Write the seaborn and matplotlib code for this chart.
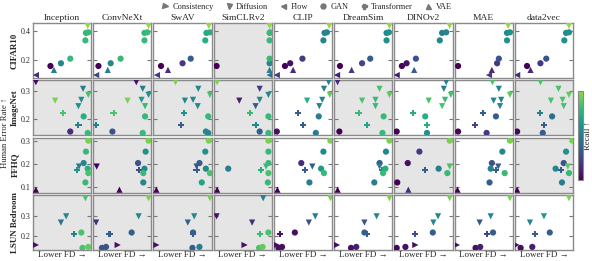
import numpy as np
import pandas as pd
import matplotlib
matplotlib.use("Agg")
import matplotlib.pyplot as plt
import seaborn as sns
from matplotlib.colors import ListedColormap, Normalize
from matplotlib.lines import Line2D
from matplotlib.cm import ScalarMappable

encoders = ["Inception", "ConvNeXt", "SwAV", "SimCLRv2", "CLIP", "DreamSim", "DINOv2", "MAE", "data2vec"]
datasets = ["CIFAR10", "ImageNet", "FFHQ", "LSUN Bedroom"]
model_types = ["Consistency", "Diffusion", "Flow", "GAN", "Transformer", "VAE"]

# ---------------- CIFAR10 ----------------
cifar_types = ["Flow", "GAN", "VAE", "GAN", "GAN", "GAN", "GAN", "GAN", "Diffusion"]
cifar_err = [0.093, 0.156, 0.129, 0.175, 0.207, 0.334, 0.386, 0.390, 0.434]
cifar_fd = [
    [0.05, 0.30, 0.36, 0.48, 0.64, 0.90, 0.91, 0.95, 0.94],
    [0.05, 0.09, 0.25, 0.30, 0.47, 0.88, 0.88, 0.93, 0.95],
    [0.06, 0.13, 0.25, 0.50, 0.64, 0.89, 0.91, 0.97, 0.95],
    [0.96, 0.05, 0.96, 0.96, 0.96, 0.96, 0.96, 0.97, 0.96],
    [0.05, 0.19, 0.33, 0.28, 0.49, 0.85, 0.87, 0.91, 0.95],
    [0.05, 0.10, 0.30, 0.48, 0.62, 0.90, 0.90, 0.94, 0.95],
    [0.04, 0.13, 0.34, 0.21, 0.37, 0.78, 0.82, 0.89, 0.95],
    [0.59, 0.06, 0.64, 0.73, 0.76, 0.90, 0.90, 0.95, 0.92],
    [0.04, 0.21, 0.27, 0.44, 0.54, 0.85, 0.88, 0.93, 0.93],
]
cifar_recall = [
    [0.15, 0.00, 0.50, 0.55, 0.80, 0.80, 0.78, 0.80, 1.00],
    [0.25, 0.00, 0.50, 0.55, 0.80, 0.80, 0.78, 0.80, 1.00],
    [0.20, 0.00, 0.15, 0.20, 0.35, 0.75, 0.72, 0.75, 1.00],
    [0.45, 0.00, 0.50, 0.55, 0.80, 0.80, 0.78, 0.80, 1.00],
    [0.20, 0.00, 0.15, 0.05, 0.20, 0.55, 0.50, 0.55, 1.00],
    [0.10, 0.00, 0.20, 0.25, 0.35, 0.60, 0.55, 0.60, 1.00],
    [0.10, 0.00, 0.35, 0.05, 0.30, 0.55, 0.50, 0.55, 1.00],
    [0.20, 0.00, 0.15, 0.20, 0.30, 0.60, 0.55, 0.60, 1.00],
    [0.15, 0.00, 0.15, 0.20, 0.30, 0.60, 0.55, 0.60, 1.00],
]
cifar_gray = [0, 0, 0, 1, 0, 0, 0, 0, 0]

# ---------------- ImageNet ----------------
imagenet_types = ["Diffusion"] * 6 + ["Transformer", "GAN", "Transformer", "GAN", "GAN"]
imagenet_err = [0.333, 0.309, 0.287, 0.266, 0.269, 0.246, 0.222, 0.209, 0.179, 0.154, 0.149]
imagenet_fd = [
    [0.05, 0.86, 0.95, 0.38, 0.83, 0.78, 0.52, 0.87, 0.78, 0.64, 0.94],
    [0.74, 0.85, 0.95, 0.59, 0.83, 0.89, 0.35, 0.89, 0.05, 0.33, 0.85],
    [0.38, 0.77, 0.97, 0.54, 0.68, 0.76, 0.52, 0.94, 0.47, 0.90, 0.94],
    [0.06, 0.79, 0.94, 0.44, 0.79, 0.72, 0.63, 0.94, 0.72, 0.79, 0.94],
    [0.94, 0.86, 0.96, 0.57, 0.83, 0.78, 0.42, 0.77, 0.50, 0.05, 0.72],
    [0.06, 0.78, 0.95, 0.48, 0.71, 0.71, 0.42, 0.85, 0.57, 0.09, 0.83],
    [0.89, 0.85, 0.97, 0.59, 0.87, 0.82, 0.32, 0.53, 0.56, 0.04, 0.56],
    [0.65, 0.76, 0.95, 0.67, 0.80, 0.78, 0.49, 0.71, 0.35, 0.06, 0.55],
    [0.44, 0.75, 0.93, 0.62, 0.82, 0.84, 0.43, 0.64, 0.50, 0.04, 0.48],
]
imagenet_recall = [
    [0.02, 0.50, 0.85, 0.95, 0.60, 0.60, 0.85, 0.75, 0.50, 0.15, 0.80],
    [0.05, 0.50, 0.60, 0.95, 0.65, 0.80, 0.85, 0.80, 0.50, 0.30, 0.80],
    [0.95, 0.55, 0.85, 0.55, 0.55, 0.55, 0.60, 0.80, 0.35, 0.55, 0.55],
    [0.95, 0.20, 0.55, 0.10, 0.55, 0.35, 0.80, 0.80, 0.55, 0.35, 0.80],
    [0.50, 0.50, 0.90, 0.75, 0.55, 0.55, 0.35, 0.50, 0.35, 0.05, 0.50],
    [0.15, 0.85, 0.90, 0.85, 0.80, 0.80, 0.80, 0.80, 0.70, 0.00, 0.80],
    [0.50, 0.50, 0.85, 0.85, 0.80, 0.85, 0.75, 0.75, 0.75, 0.00, 0.60],
    [0.85, 0.55, 0.90, 0.55, 0.55, 0.55, 0.35, 0.35, 0.25, 0.02, 0.20],
    [0.85, 0.85, 0.90, 0.85, 0.85, 0.85, 0.50, 0.45, 0.35, 0.02, 0.35],
]
imagenet_gray = [1, 1, 1, 1, 0, 1, 0, 0, 1]

# ---------------- FFHQ ----------------
ffhq_types = ["VAE", "GAN", "GAN", "GAN", "Diffusion", "Transformer", "GAN", "GAN", "GAN"]
ffhq_err = [0.090, 0.300, 0.253, 0.204, 0.189, 0.175, 0.180, 0.161, 0.121]
ffhq_fd = [
    [0.05, 0.95, 0.91, 0.87, 0.79, 0.75, 0.94, 0.95, 0.90],
    [0.45, 0.95, 0.90, 0.77, 0.06, 0.79, 0.88, 0.86, 0.86],
    [0.05, 0.95, 0.89, 0.79, 0.74, 0.74, 0.90, 0.97, 0.83],
    [0.06, 0.94, 0.94, 0.94, 0.90, 0.81, 0.25, 0.94, 0.93],
    [0.06, 0.97, 0.85, 0.47, 0.66, 0.53, 0.81, 0.86, 0.61],
    [0.06, 0.95, 0.89, 0.78, 0.78, 0.82, 0.88, 0.84, 0.69],
    [0.24, 0.95, 0.43, 0.23, 0.95, 0.53, 0.76, 0.91, 0.05],
    [0.05, 0.95, 0.82, 0.64, 0.75, 0.71, 0.62, 0.86, 0.60],
    [0.04, 0.99, 0.88, 0.84, 0.91, 0.79, 0.70, 0.93, 0.81],
]
ffhq_recall = [
    [0.00, 0.95, 0.80, 0.55, 0.50, 0.60, 0.75, 0.85, 0.80],
    [0.00, 0.95, 0.60, 0.30, 0.00, 0.30, 0.55, 0.80, 0.55],
    [0.00, 0.95, 0.60, 0.35, 0.30, 0.35, 0.55, 0.85, 0.70],
    [0.00, 0.95, 0.80, 0.80, 0.80, 0.75, 0.50, 0.85, 0.80],
    [0.00, 0.95, 0.55, 0.15, 0.35, 0.35, 0.65, 0.80, 0.50],
    [0.00, 0.95, 0.55, 0.35, 0.50, 0.50, 0.75, 0.80, 0.50],
    [0.15, 0.95, 0.20, 0.05, 0.85, 0.35, 0.50, 0.80, 0.00],
    [0.00, 0.95, 0.55, 0.30, 0.35, 0.35, 0.50, 0.80, 0.35],
    [0.00, 0.95, 0.60, 0.30, 0.90, 0.35, 0.55, 0.80, 0.50],
]
ffhq_gray = [1, 1, 1, 1, 0, 0, 1, 0, 1]

# ---------------- LSUN Bedroom ----------------
lsun_types = ["Diffusion", "Diffusion", "Diffusion", "Transformer", "GAN", "Consistency", "GAN", "GAN"]
lsun_err = [0.393, 0.300, 0.268, 0.210, 0.217, 0.153, 0.138, 0.143]
lsun_fd = [
    [0.90, 0.57, 0.48, 0.71, 0.83, 0.05, 0.85, 0.95],
    [0.95, 0.78, 0.05, 0.28, 0.66, 0.42, 0.15, 0.22],
    [0.97, 0.70, 0.59, 0.68, 0.68, 0.05, 0.67, 0.79],
    [0.85, 0.05, 0.66, 0.79, 0.94, 0.53, 0.78, 0.84],
    [0.97, 0.71, 0.60, 0.10, 0.36, 0.05, 0.08, 0.14],
    [0.95, 0.73, 0.52, 0.56, 0.52, 0.05, 0.29, 0.38],
    [0.95, 0.75, 0.67, 0.36, 0.66, 0.36, 0.04, 0.19],
    [0.95, 0.62, 0.43, 0.55, 0.66, 0.04, 0.36, 0.44],
    [0.93, 0.50, 0.26, 0.34, 0.60, 0.03, 0.10, 0.30],
]
lsun_recall = [
    [0.85, 0.55, 0.45, 0.50, 0.85, 0.05, 0.85, 0.90],
    [0.95, 0.55, 0.15, 0.35, 0.35, 0.05, 0.30, 0.30],
    [0.95, 0.55, 0.35, 0.35, 0.35, 0.05, 0.35, 0.50],
    [0.50, 0.05, 0.15, 0.80, 0.85, 0.05, 0.85, 0.90],
    [0.95, 0.50, 0.30, 0.05, 0.05, 0.05, 0.05, 0.05],
    [0.95, 0.55, 0.30, 0.35, 0.35, 0.05, 0.05, 0.10],
    [0.95, 0.55, 0.55, 0.30, 0.35, 0.05, 0.02, 0.05],
    [0.95, 0.55, 0.30, 0.25, 0.35, 0.05, 0.05, 0.10],
    [0.95, 0.65, 0.55, 0.35, 0.35, 0.05, 0.05, 0.10],
]
lsun_gray = [1, 1, 1, 1, 0, 0, 0, 0, 0]

rows = [
    (cifar_types, cifar_err, cifar_fd, cifar_recall, cifar_gray),
    (imagenet_types, imagenet_err, imagenet_fd, imagenet_recall, imagenet_gray),
    (ffhq_types, ffhq_err, ffhq_fd, ffhq_recall, ffhq_gray),
    (lsun_types, lsun_err, lsun_fd, lsun_recall, lsun_gray),
]
row_ylim = [(0.072, 0.455), (0.14, 0.34), (0.077, 0.313), (0.127, 0.41)]
row_yticks = [[0.2, 0.4], [0.2, 0.3], [0.1, 0.2, 0.3], [0.2, 0.3]]

markers = {"Consistency": ">", "Diffusion": "v", "Flow": "<", "GAN": "o",
           "Transformer": "P", "VAE": "^"}
cmap = ListedColormap(plt.get_cmap("viridis")(np.linspace(0.0, 0.84, 256)))

sns.set_theme(style="white")
plt.rcParams["font.family"] = ["Liberation Serif", "DejaVu Serif"]

fig, axes = plt.subplots(4, 9, figsize=(5.92, 2.61), dpi=100, sharey="row")
fig.subplots_adjust(left=0.0557, right=0.968, top=0.912, bottom=0.042,
                    wspace=0.034, hspace=0.04)

for r, (types, err, fd, rec, gray) in enumerate(rows):
    for c, enc in enumerate(encoders):
        ax = axes[r, c]
        df = pd.DataFrame({"fd": fd[c], "err": err, "recall": rec[c], "type": types})
        sns.scatterplot(data=df, x="fd", y="err", hue="recall", hue_norm=(0, 1),
                        palette=cmap, style="type", markers=markers, s=20,
                        linewidth=0, legend=False, ax=ax, zorder=3)
        ax.set_facecolor("#e5e5e5" if gray[c] else "white")
        ax.set_xlim(0, 1)
        ax.set_ylim(*row_ylim[r])
        ax.set_xticks([])
        ax.set_yticks(row_yticks[r])
        ax.tick_params(axis="y", direction="in", length=3, width=0.8, color="#777777",
                       left=True, right=True, labelsize=5.8, pad=1.5)
        for s in ax.spines.values():
            s.set_color("#8a8a8a")
            s.set_linewidth(1.0)
        if r == 0:
            ax.set_title(enc, fontsize=6.8, pad=2)
        if r == 3:
            ax.set_xlabel("Lower FD →", fontsize=6.5, labelpad=1)
        else:
            ax.set_xlabel("")
        if c == 0:
            ax.set_ylabel(datasets[r], fontsize=6.4, fontweight="bold")
            ax.yaxis.set_label_coords(-0.245, 0.5)
        else:
            ax.set_ylabel("")

cax = fig.add_axes([0.976, 0.31, 0.0084, 0.341])
sm = ScalarMappable(norm=Normalize(0, 1), cmap=cmap)
cb = fig.colorbar(sm, cax=cax)
cb.set_ticks([])
cb.set_label("Recall ↑", fontsize=6.2, labelpad=0.5)
cb.outline.set_edgecolor("#8a8a8a")
cb.outline.set_linewidth(0.8)

fig.text(0.0085, 0.49, "Human Error Rate ↑", rotation=90, va="center", ha="center",
         fontsize=6.2)

handles = [Line2D([], [], marker=markers[t], linestyle="", color="#777777",
                  markersize=3.6, label=t) for t in model_types]
fig.legend(handles=handles, loc="center", bbox_to_anchor=(0.517, 0.973), ncol=6,
           frameon=False, fontsize=6, handlelength=1.0, handletextpad=0.4,
           columnspacing=1.3, borderaxespad=0.0)

fig.savefig("out.png", dpi=100)
